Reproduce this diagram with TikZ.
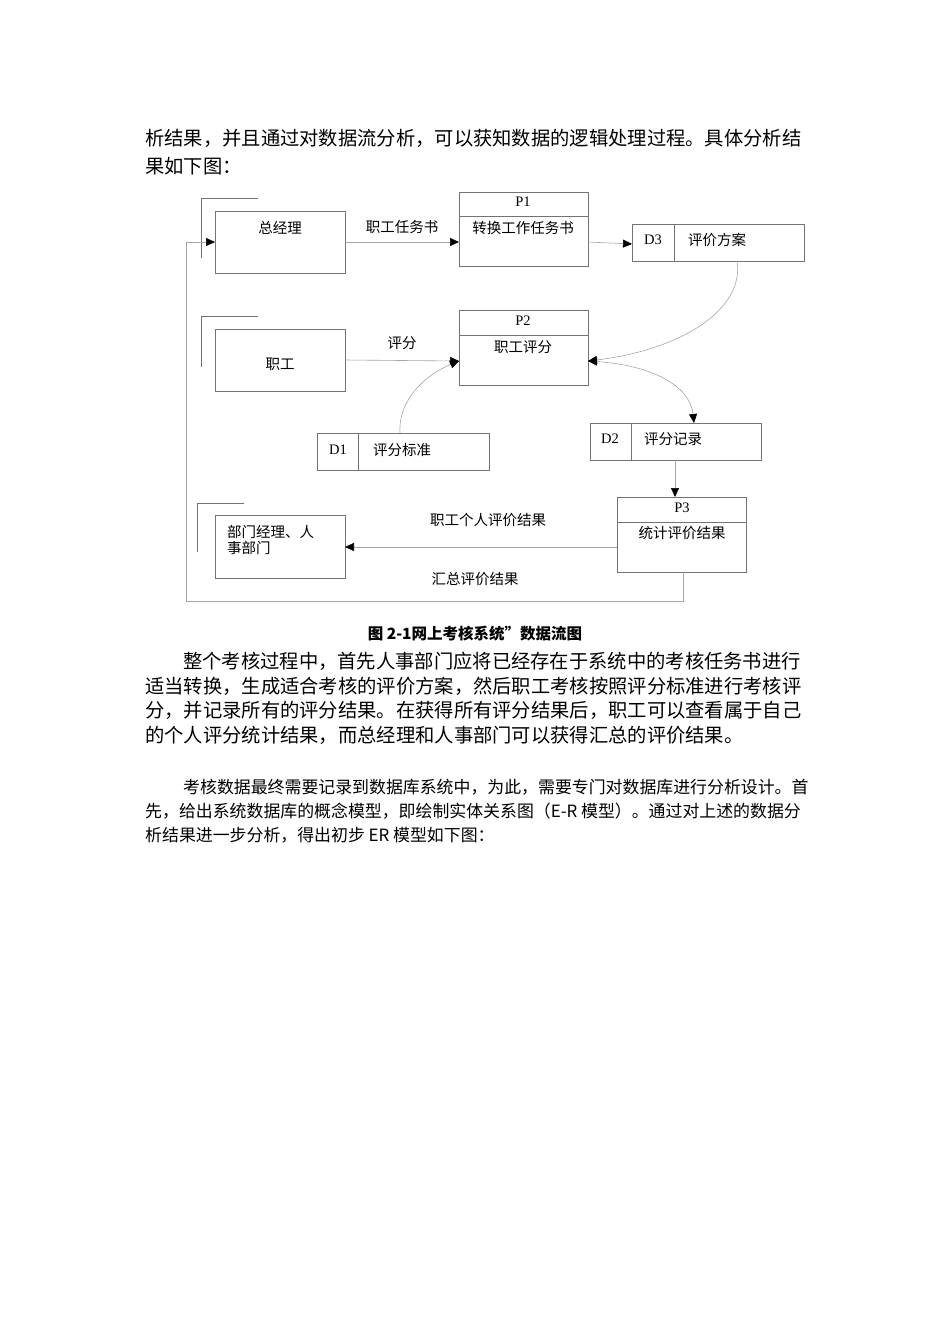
\documentclass[tikz,border=0pt]{standalone}
\usepackage{fontspec}
\setmainfont{Liberation Serif}
\newfontfamily\cjk{Noto Sans CJK SC}
\usetikzlibrary{arrows.meta}
\begin{document}
\begin{tikzpicture}[x=1pt,y=-1pt,
  box/.style={draw=black!55,line width=0.7pt},
  tip/.tip={Triangle[length=9pt,width=8pt,color=black]},
  conn/.style={draw=black!35,line width=0.6pt,-tip},
  lbl/.style={font=\cjk\fontsize{14.5}{16}\selectfont,inner sep=0pt},
  bodyA/.style={font=\cjk\fontsize{19.3}{22}\selectfont,anchor=west,inner sep=0pt},
  bodyB/.style={font=\cjk\fontsize{16.9}{18}\selectfont,anchor=west,inner sep=0pt}]
\useasboundingbox[fill=white] (0,0) rectangle (950,1344);
% top text
\node[bodyA] (t1) at (145,138) {析结果，并且通过对数据流分析，可以获知数据的逻辑处理过程。具体分析结};
\node[bodyA] (t2) at (145,166) {果如下图：};
% entities
\draw[box] (215,211) rectangle (345,273); \node[lbl] (gm) at (280,228) {总经理};
\coordinate (gmw) at (215,242); \coordinate (gme) at (345,242);
\draw[box] (201,258) -- (201,198) -- (258,198);
\draw[box] (215,329) rectangle (345,391); \node[lbl] (zg) at (280,364) {职工};
\coordinate (zge) at (345,360);
\draw[box] (201,367) -- (201,316) -- (258,316);
\draw[box] (215,515) rectangle (345,578);
\node[lbl,anchor=west,align=left] (bm) at (227,540) {部门经理、人\\事部门};
\coordinate (bme) at (345,547);
\draw[box] (197,552) -- (197,503) -- (244,503);
% processes
\draw[box] (459,192) rectangle (588,266); \draw[box] (459,216) -- (588,216);
\node[lbl] (p1) at (523,202) {\fontspec{Liberation Serif}P1};
\node[lbl] (p1t) at (523,228) {转换工作任务书};
\coordinate (p1w) at (459,242); \coordinate (p1e) at (588,242);
\draw[box] (459,310) rectangle (588,385); \draw[box] (459,335) -- (588,335);
\node[lbl] (p2) at (523,321) {\fontspec{Liberation Serif}P2};
\node[lbl] (p2t) at (523,347) {职工评分};
\coordinate (p2w) at (459,361); \coordinate (p2e) at (588,361);
\draw[box] (617,497) rectangle (746,572); \draw[box] (617,522) -- (746,522);
\node[lbl] (p3) at (682,508) {\fontspec{Liberation Serif}P3};
\node[lbl] (p3t) at (682,533) {统计评价结果};
\coordinate (p3w) at (617,547); \coordinate (p3b) at (683,572);
% stores
\draw[box] (632,224) rectangle (804,261); \draw[box] (674,224) -- (674,261);
\node[lbl] (d3) at (653,240) {\fontspec{Liberation Serif}D3};
\node[lbl,anchor=west] (d3t) at (688,240) {评价方案};
\coordinate (d3w) at (632,244); \coordinate (d3b) at (737,261);
\draw[box] (317,433) rectangle (489,470); \draw[box] (358,433) -- (358,470);
\node[lbl] (d1) at (338,450) {\fontspec{Liberation Serif}D1};
\node[lbl,anchor=west] (d1t) at (373,450) {评分标准};
\coordinate (d1t0) at (400,433);
\draw[box] (590,423) rectangle (761,460); \draw[box] (631,423) -- (631,460);
\node[lbl] (d2) at (610,439) {\fontspec{Liberation Serif}D2};
\node[lbl,anchor=west] (d2t) at (644,439) {评分记录};
\coordinate (d2top) at (694,423); \coordinate (d2b) at (675,460);
% connectors
\draw[conn] (gme) -- (p1w);
\node[lbl] (l1) at (402,227) {职工任务书};
\draw[conn] (p1e) -- (d3w);
\draw[conn] (zge) -- (p2w);
\node[lbl] (l2) at (402,343) {评分};
\draw[conn] (d3b) .. controls (745,310) and (680,350) .. (p2e);
\draw[conn] (d1t0) .. controls (398,400) and (425,375) .. (p2w);
\draw[draw=black!35,line width=0.6pt,tip-tip] (p2e) .. controls (650,365) and (690,385) .. (d2top);
\draw[conn] (d2b) -- (675,497);
\draw[conn] (p3w) -- (bme);
\node[lbl] (l3) at (488,520) {职工个人评价结果};
\node[lbl] (l4) at (475,579) {汇总评价结果};
\draw[conn] (p3b) -- (683,601) -- (186,601) -- (186,242) -- (gmw);
% caption
\node[font=\cjk\bfseries\fontsize{15.5}{17}\selectfont,inner sep=0pt] (cap) at (475,634) {图 2-1网上考核系统”数据流图};
% paragraph 2
\node[bodyA] (a1) at (183,661) {整个考核过程中，首先人事部门应将已经存在于系统中的考核任务书进行};
\node[bodyA] (a2) at (145,686) {适当转换，生成适合考核的评价方案，然后职工考核按照评分标准进行考核评};
\node[bodyA] (a3) at (145,710) {分，并记录所有的评分结果。在获得所有评分结果后，职工可以查看属于自己};
\node[bodyA] (a4) at (145,735) {的个人评分统计结果，而总经理和人事部门可以获得汇总的评价结果。};
% paragraph 3
\node[bodyB] (b1) at (183,787) {考核数据最终需要记录到数据库系统中，为此，需要专门对数据库进行分析设计。首};
\node[bodyB] (b2) at (145,811) {先，给出系统数据库的概念模型，即绘制实体关系图（E-R 模型）。通过对上述的数据分};
\node[bodyB] (b3) at (145,835) {析结果进一步分析，得出初步 ER 模型如下图：};
\end{tikzpicture}
\end{document}
